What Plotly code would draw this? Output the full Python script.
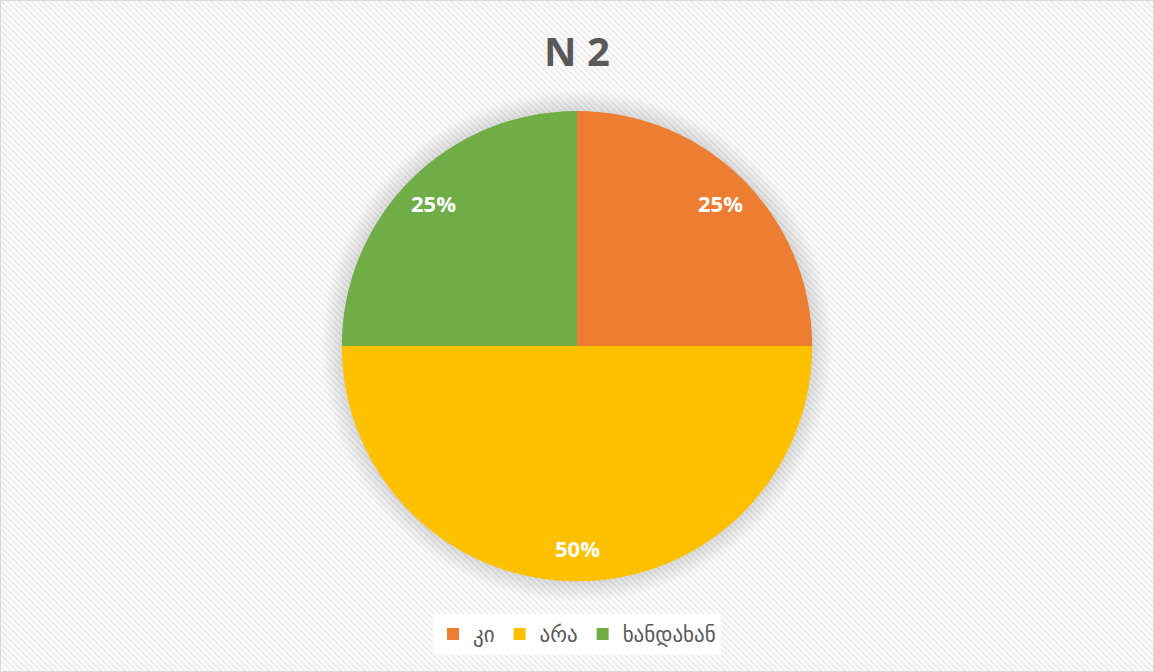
import base64
import math
import plotly.graph_objects as go

labels = ["კი", "არა", "ხანდახან"]
values = [25, 50, 25]
colors = ["#ED7D31", "#FFC000", "#70AD47"]

W, H = 1154, 672
PIE_Y = [0.135, 0.835]
R_PX = (PIE_Y[1] - PIE_Y[0]) * H / 2
YC = (PIE_Y[0] + PIE_Y[1]) / 2

# faint diagonal hatch for the chart area background
hatch_svg = f"""<svg xmlns="http://www.w3.org/2000/svg" width="{W}" height="{H}">
<defs><pattern id="p" patternUnits="userSpaceOnUse" width="6" height="6">
<rect width="6" height="6" fill="#ffffff"/>
<path d="M-2,-2 L8,8 M-2,4 L2,8 M4,-2 L8,2" stroke="#efefef" stroke-width="2.5"/>
</pattern></defs>
<rect width="{W}" height="{H}" fill="url(#p)"/></svg>"""
hatch_uri = "data:image/svg+xml;base64," + base64.b64encode(hatch_svg.encode()).decode()

fig = go.Figure()

# soft shadow: many very faint discs slightly larger than the pie
for grow in range(20, 0, -2):
    dy = grow / H
    fig.add_trace(go.Pie(
        values=[1],
        sort=False,
        marker=dict(colors=["rgba(0,0,0,0.012)"], line=dict(width=0)),
        textinfo="none",
        hoverinfo="skip",
        showlegend=False,
        domain=dict(x=[0, 1], y=[PIE_Y[0] - dy, PIE_Y[1] + dy]),
    ))

fig.add_trace(go.Pie(
    labels=labels,
    values=values,
    sort=False,
    direction="clockwise",
    rotation=0,
    marker=dict(colors=colors, line=dict(width=0)),
    textinfo="none",
    domain=dict(x=[0, 1], y=PIE_Y),
    hoverinfo="label+percent",
))

# percentage labels placed out toward the rim, like the original
total = sum(values)
start = 0
annotations = []
for v in values:
    mid = (start + v / 2) / total * 2 * math.pi
    start += v
    r = 0.86 * R_PX
    annotations.append(dict(
        x=0.5 + r * math.sin(mid) / W,
        y=YC + r * math.cos(mid) / H,
        xref="paper", yref="paper",
        xanchor="center", yanchor="middle",
        text=f"<b>{v / total:.0%}</b>",
        showarrow=False,
        font=dict(family="Open Sans, sans-serif", size=22, color="white"),
    ))

fig.update_layout(
    width=W,
    height=H,
    paper_bgcolor="#ffffff",
    margin=dict(l=0, r=0, t=0, b=0),
    title=dict(
        text="<b>N 2</b>",
        x=0.5, xanchor="center",
        y=0.922, yanchor="middle",
        font=dict(family="Open Sans, sans-serif", size=40, color="#595959"),
    ),
    legend=dict(
        orientation="h",
        x=0.5, xanchor="center",
        y=0.056, yanchor="middle",
        bgcolor="white",
        font=dict(family="DejaVu Sans, sans-serif", size=21, color="#595959"),
    ),
    annotations=annotations,
    images=[dict(
        source=hatch_uri, xref="paper", yref="paper",
        x=0, y=1, sizex=1, sizey=1, xanchor="left", yanchor="top",
        sizing="stretch", layer="below",
    )],
    shapes=[dict(
        type="rect", xref="paper", yref="paper",
        x0=0, y0=0, x1=1, y1=1,
        line=dict(color="#d9d9d9", width=2),
    )],
)

fig.write_html(
    "out.html",
    config={"displayModeBar": False},
    post_script="document.body.style.margin='0';",
)
